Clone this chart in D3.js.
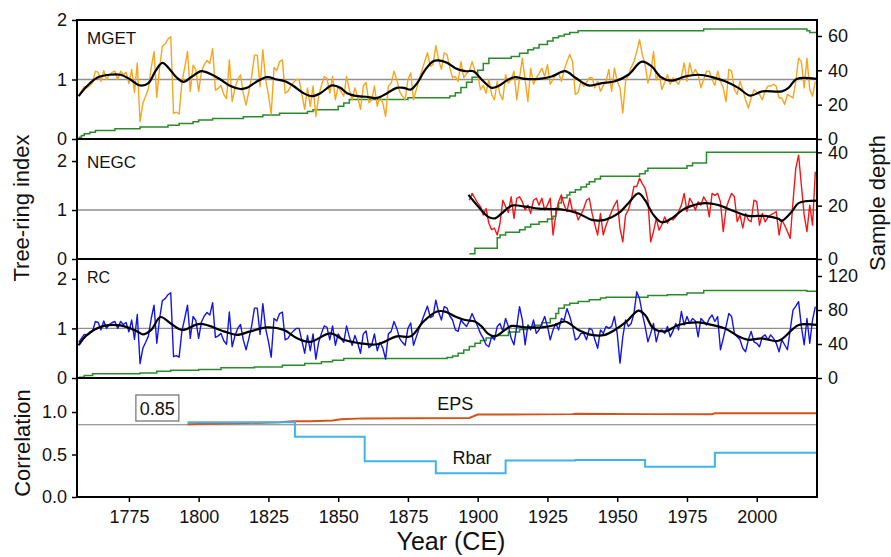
<!DOCTYPE html>
<html><head><meta charset="utf-8">
<script src="https://cdn.jsdelivr.net/npm/d3@7"></script>
<style>
body{margin:0;background:#fff}
svg{display:block;font-family:"Liberation Sans",Arial,Helvetica,sans-serif}
</style>
</head><body>
<svg id="chart" width="891" height="557"></svg>
<script>
// ---------------- DATA ----------------
const yearTicks = [1775, 1800, 1825, 1850, 1875, 1900, 1925, 1950, 1975, 2000];

const mgetStart = 1757;
const mgetValues = [
 .72,.80,.88,.86,.90,.95,1.14,1.12,.97,1.15,      // 1757
 1.0,1.08,1.12,1.14,1.0,1.14,1.08,1.12,.93,1.17,  // 1767
 .78,1.28,.29,.6,.72,.85,1.2,1.47,.7,1.2,         // 1777
 1.56,1.6,1.68,1.72,.43,.45,.42,.95,1.2,1.47,     // 1787
 .8,1.24,1.16,.8,1.13,1.25,1.32,1.27,1.52,.82,    // 1797
 .85,.9,.75,.68,1.33,.63,.85,1.0,1.08,.77,        // 1807
 .57,.8,1.05,1.41,1.41,.88,1.5,1.0,.74,.42,       // 1817
 1.2,1.15,1.3,1.33,.77,.8,.89,.95,1.0,1.0,        // 1827
 .75,.5,.86,.55,.89,.38,.72,.9,1.05,1.02,         // 1837
 .77,1.05,.66,.89,.8,.72,1.05,.83,.66,.86,        // 1847
 .7,.5,.89,.95,.61,.66,.89,.55,.72,.6,            // 1857
 .38,.89,.94,1.14,1.0,.8,.72,.66,1.0,1.11,        // 1867
 .66,.83,1.0,1.15,1.3,1.45,1.22,1.25,1.57,1.33,   // 1877
 1.17,                                            // 1887
 1.45,1.42,1.2,1.03,1.05,.97,1.3,1.03,1.1,1.14,   // 1888
 1.3,1.15,1.08,.83,.9,.77,1.0,.75,.66,.97,        // 1898
 .75,.66,1.08,.94,1.0,1.14,.66,1.03,1.36,.99,     // 1908
 .63,1.19,.92,1.03,1.1,1.19,1.05,1.25,.92,1.0,    // 1918
 1.08,1.11,.97,1.16,1.3,1.42,1.3,.75,.78,.97,     // 1928
 .89,.95,1.03,1.03,.86,.97,.8,.9,.97,1.17,        // 1938
 .8,1.19,.97,.86,.44,.97,1.08,1.2,1.3,1.47,       // 1948
 1.67,1.42,1.25,.94,1.1,1.47,.99,1.1,.83,.95,     // 1958
 1.08,.92,1.03,.97,.92,1.05,1.28,.97,1.28,1.08,   // 1968
 1.17,1.08,.86,1.0,1.14,1.14,1.0,.9,1.14,.97,     // 1978
 .86,.63,1.17,1.14,.83,.75,.97,.83,.66,.52,       // 1988
 .69,.83,.78,.75,.66,.8,.89,.89,.92,.89,          // 1998
 .69,.69,.58,.75,.72,.69,.97,1.36,1.3,.86,        // 2008
 1.36,.83,.72,.97                                 // 2018
];

const negcStart = 1897;
const negcValues = [
 1.2,1.34,1.24,1.14,1.07,.9,1.03,.73,.6,.63,      // 1897
 .49,.73,1.2,1.07,.95,1.27,.83,1.24,1.27,1.17,    // 1907
 1.0,1.1,.93,1.2,1.24,1.1,1.24,1.0,1.1,1.24,      // 1917
 .49,.9,1.17,1.31,1.1,.97,1.24,.97,1.0,.8,        // 1927
 .9,1.03,1.2,1.24,.93,.7,.49,.93,.49,.69,         // 1937
 .83,.97,1.1,1.2,.63,.35,.9,1.0,1.2,1.48,         // 1947
 1.48,1.65,1.54,1.44,1.2,.35,.56,.83,.59,.7,      // 1957
 .86,.73,.83,.8,.86,.97,1.1,1.34,.97,1.24,        // 1967
 1.14,1.0,1.17,1.1,1.27,1.17,.86,1.34,1.3,1.34,   // 1977
 1.17,.56,1.03,1.2,1.34,1.27,.76,.9,.63,.93,      // 1987
 .8,.76,1.2,1.17,.69,.93,.76,.85,.9,.93,          // 1997
 .97,.49,.8,.69,.56,.42,1.17,1.85,2.12,1.51,      // 2007
 .9,.56,1.1,.69,1.78                              // 2017
];

const rcStart = 1757;
const rcValues = [
 .72,.80,.88,.86,.90,.95,1.14,1.12,.97,1.15,      // 1757
 1.0,1.08,1.12,1.14,1.0,1.14,1.08,1.12,.93,1.17,  // 1767
 .78,1.28,.29,.6,.72,.85,1.2,1.47,.7,1.2,         // 1777
 1.56,1.6,1.68,1.72,.43,.45,.42,.95,1.2,1.47,     // 1787
 .8,1.24,1.16,.8,1.13,1.25,1.32,1.27,1.52,.82,    // 1797
 .85,.9,.75,.68,1.33,.63,.85,1.0,1.08,.77,        // 1807
 .57,.8,1.05,1.41,1.41,.88,1.5,1.0,.74,.42,       // 1817
 1.2,1.15,1.3,1.33,.77,.8,.89,.95,1.0,1.0,        // 1827
 .75,.5,.86,.55,.89,.38,.72,.9,1.05,1.02,         // 1837
 .77,1.05,.66,.89,.8,.72,1.05,.83,.66,.86,        // 1847
 .7,.5,.89,.95,.61,.66,.89,.55,.72,.6,            // 1857
 .38,.89,.94,1.14,1.0,.8,.72,.66,1.0,1.11,        // 1867
 .66,.83,1.0,1.15,1.3,1.45,1.22,1.25,1.57,1.33,   // 1877
 1.17,                                            // 1887
 1.44,1.41,1.25,1.17,.97,.94,1.17,1.1,1.04,1.15,  // 1888
 1.3,1.17,1.04,.9,.8,.67,.63,.84,.77,1.04,        // 1898
 1.1,.94,1.2,1.04,.8,.67,1.04,1.44,1.17,.67,      // 1908
 1.07,.97,1.17,.9,.97,1.1,1.24,1.04,.77,.97,      // 1918
 1.1,.97,1.2,1.17,1.4,1.24,1.04,.77,.8,.9,        // 1928
 .9,.77,1.0,.97,.77,.6,.97,.9,1.04,1.0,           // 1938
 1.04,1.24,.9,.3,.83,1.17,1.04,1.1,1.3,1.74,      // 1948
 1.6,1.3,1.04,.73,.9,1.1,.73,.95,.97,.9,          // 1958
 1.04,.83,.95,1.1,.97,1.34,1.07,1.24,1.1,1.2,     // 1968
 1.15,.83,1.2,1.14,1.07,1.2,1.27,1.14,1.24,.57,   // 1978
 .8,1.04,1.3,1.24,.9,.83,.77,.6,.53,.77,          // 1988
 .94,.73,.7,.63,.83,.87,.77,.87,.8,.7,            // 1998
 .53,.77,.67,.57,.97,1.37,1.45,1.54,1.04,.67,     // 2008
 1.2,.7,1.17,1.44                                 // 2018
];

// smoothed curves [year, index]
const mgetSmooth = [[1757,.72],[1760,.89],[1763.6,1.03],[1768,1.08],[1772,1.08],[1775.5,1.0],[1779,.9],[1782,.94],
 [1784.5,1.14],[1787,1.28],[1789.3,1.19],[1792.2,1.03],[1794.6,.96],[1797.6,1.05],[1801,1.14],[1804.8,1.08],
 [1807.8,1.0],[1811.4,.89],[1815,.84],[1817.3,.86],[1821,.97],[1824.5,1.04],[1828,1.0],[1831,.97],[1834,.89],
 [1837.6,.77],[1840.6,.72],[1843.6,.77],[1847.8,.9],[1850.8,.86],[1853.2,.77],[1857,.72],[1860,.71],[1864,.69],
 [1867.5,.77],[1871,.86],[1873.5,.86],[1876,.83],[1878.3,.94],[1881.3,1.17],[1884.2,1.31],[1886,1.32],[1889,1.28],
 [1892,1.19],[1895.5,1.14],[1898.5,1.14],[1901.4,1.0],[1905,.86],[1907.4,.89],[1911,1.0],[1913.4,1.04],[1917,1.01],
 [1922,1.01],[1926.5,1.05],[1931.3,1.14],[1935,1.03],[1939.7,.9],[1944.5,.94],[1949.2,.97],[1954,1.08],[1958.8,1.3],
 [1962.4,1.22],[1965.4,1.05],[1969.5,.98],[1974.3,1.05],[1979,1.08],[1984,1.04],[1988.7,.97],[1993.4,.86],
 [1997.6,.73],[2002,.8],[2009,.8],[2011.4,.86],[2014.3,1.01],[2021.5,1.01]];

const negcSmooth = [[1896.7,1.31],[1900.2,1.07],[1903.8,.86],[1906.2,.83],[1908.6,.93],[1912.2,1.09],[1917,1.07],
 [1921.8,1.03],[1926.5,1.02],[1931.3,1.0],[1936.1,.93],[1940.9,.8],[1945.6,.8],[1950.4,.93],[1954,1.14],
 [1957.6,1.34],[1960,1.2],[1963,.9],[1966,.75],[1969.5,.83],[1974.3,1.03],[1981.5,1.14],[1986.3,1.1],
 [1992.2,.97],[1997,.88],[2003,.88],[2007.8,.82],[2009,.78],[2012.6,.97],[2015,1.14],[2021.5,1.19]];

const rcSmooth = [[1757,.66],[1760,.87],[1766,1.05],[1772,1.06],[1778,.94],[1780,.88],[1783,.97],[1786.3,1.23],
 [1790,1.1],[1794,.97],[1800.6,1.09],[1809,.94],[1813.7,.87],[1818.5,.94],[1824.5,1.02],[1830.5,.97],
 [1835.3,.8],[1840,.73],[1847.2,.9],[1852,.77],[1858,.7],[1864,.68],[1871,.84],[1876,.84],[1880.6,1.14],
 [1885.4,1.34],[1888.3,1.34],[1891.9,1.24],[1895.5,1.17],[1899,1.14],[1901.4,1.04],[1903.8,.89],[1906.2,.84],
 [1909.8,.97],[1912.2,1.05],[1917,1.02],[1923,1.02],[1927.7,1.07],[1931.3,1.14],[1936.1,.97],[1940.9,.87],
 [1945.6,.87],[1949.2,.97],[1953.4,1.14],[1957.6,1.36],[1960,1.27],[1963,1.0],[1967.2,.94],[1972,1.07],
 [1979.1,1.12],[1983.9,1.07],[1988.7,1.0],[1993.4,.84],[1997,.77],[2001.8,.8],[2007.8,.75],[2012.6,.97],
 [2015,1.07],[2021.5,1.07]];

// sample depth [year, number of samples] (step changes)
const mgetDepth = [[1757,1],[1758,2],[1759,3],[1761,4],[1763,5],[1770,6],[1779,7],[1789,8],[1793,9],[1798,10],
 [1800,11],[1805,12],[1816,13],[1823,14],[1829,15],[1839,16],[1841,17],[1850,19],[1852,21],[1854,23],[1875,24],
 [1890,25],[1892,27],[1894,30],[1896,33],[1898,36],[1900,40],[1902,44],[1904,47],[1912,48],[1915,50],[1918,52],
 [1920,53],[1922,55],[1925,57],[1927,59],[1929,60],[1931,61],[1933,62],[1936,63],[1981,64],[2018,63],[2019,62],[2021.5,62]];

const negcDepth = [[1897,2],[1899,4],[1907,8],[1908,9],[1910,10],[1915,11],[1917,12],[1919,13],[1922,14],[1925,15],
 [1927,16],[1928,19],[1929,21],[1930,23],[1932,24],[1933,25],[1935,26],[1937,27],[1939,28],[1940,29],[1942,30],
 [1944,31],[1958,32],[1960,33],[1961,34],[1975,35],[1977,36],[1982,40],[2021.5,40]];

const rcDepth = [[1757,1],[1759,3],[1762,5],[1779,6],[1785,8],[1790,9],[1800,10],[1808,12],[1820,13],[1830,15],
 [1838,17],[1844,19],[1848,21],[1852,23],[1889,24],[1891,26],[1893,29],[1895,33],[1897,37],[1899,41],[1901,44],
 [1903,47],[1906,50],[1911,54],[1915,57],[1918,60],[1920,62],[1923,65],[1926,70],[1928,76],[1929,82],[1931,86],
 [1933,88],[1936,90],[1940,92],[1944,94],[1946,95],[1961,97],[1968,98],[1975,100],[1981,103],[2018,102],[2021.5,102]];

// running statistics
const epsSeries = [[1796,.855],[1813,.867],[1829,.878],[1834,.89],[1840,.89],[1848,.9],[1851,.915],[1859,.925],
 [1897,.93],[1900,.97],[1934,.975],[1935,.98],[1960,.975],[1984,.975],[1985,.985],[2021.5,.985]];
const rbarSeries = [[1796,.88],[1834.5,.71],[1859.5,.42],[1885,.28],[1910,.43],[1935,.435],[1960,.357],[1985,.52],[2021.5,.52]];
const epsThreshold = 0.85;

// ---------------- CHART ----------------
const svg = d3.select("#chart");
const L = 77, R = 817;
const x = d3.scaleLinear().domain([1756.4, 2021.6]).range([L, R]);
const FONT = 18;

const panels = [
  {top:20,  bottom:139, yMax:2,    yTicks:[0,1,2], dMax:69.3, dTicks:[0,20,40,60],     name:"MGET", nameY:44,  nameSize:17,
   start:mgetStart, values:mgetValues, color:"#F7A51C", smooth:mgetSmooth, depth:mgetDepth},
  {top:139, bottom:259, yMax:2.45, yTicks:[0,1,2], dMax:45,   dTicks:[0,20,40],        name:"NEGC", nameY:168, nameSize:17,
   start:negcStart, values:negcValues, color:"#F01818", smooth:negcSmooth, depth:negcDepth},
  {top:259, bottom:378, yMax:2.4,  yTicks:[0,1,2], dMax:140,  dTicks:[0,40,80,120],    name:"RC",   nameY:283, nameSize:16,
   start:rcStart, values:rcValues, color:"#1515E0", smooth:rcSmooth, depth:rcDepth}
];

function styleAxis(g){
  g.select(".domain").remove();
  g.selectAll(".tick line").attr("stroke","#000").attr("stroke-width",1.5);
  g.selectAll(".tick text").attr("fill","#111").style("font-size",FONT+"px");
}

panels.forEach((p,i)=>{
  const y = d3.scaleLinear().domain([0,p.yMax]).range([p.bottom,p.top]);
  const yd = d3.scaleLinear().domain([0,p.dMax]).range([p.bottom,p.top]);
  const clipId = "clip"+i;
  svg.append("clipPath").attr("id",clipId).append("rect")
    .attr("x",L).attr("y",p.top).attr("width",R-L).attr("height",p.bottom-p.top);
  const g = svg.append("g").attr("clip-path",`url(#${clipId})`);
  g.append("line").attr("x1",L).attr("x2",R).attr("y1",y(1)).attr("y2",y(1))
    .attr("stroke","#8f8f8f").attr("stroke-width",1.3);
  g.append("path").datum(p.depth)
    .attr("d", d3.line().x(d=>x(d[0])).y(d=>yd(d[1])).curve(d3.curveStepAfter))
    .attr("fill","none").attr("stroke","#2A8A2A").attr("stroke-width",1.5);
  const annual = p.values.map((v,k)=>[p.start+k, v]);
  g.append("path").datum(annual)
    .attr("d", d3.line().x(d=>x(d[0])).y(d=>y(d[1])))
    .attr("fill","none").attr("stroke",p.color).attr("stroke-width",1.4).attr("stroke-linejoin","round");
  g.append("path").datum(p.smooth)
    .attr("d", d3.line().x(d=>x(d[0])).y(d=>y(d[1])).curve(d3.curveCatmullRom.alpha(0.5)))
    .attr("fill","none").attr("stroke","#000").attr("stroke-width",2.2);
  svg.append("g").attr("transform",`translate(${L},0)`)
    .call(d3.axisLeft(y).tickValues(p.yTicks).tickSize(5).tickPadding(5).tickFormat(d3.format("d")))
    .call(styleAxis);
  svg.append("g").attr("transform",`translate(${R},0)`)
    .call(d3.axisRight(yd).tickValues(p.dTicks).tickSize(5).tickPadding(6).tickFormat(d3.format("d")))
    .call(styleAxis);
  svg.append("text").attr("x",L+10).attr("y",p.nameY).text(p.name)
    .style("font-size",p.nameSize+"px").attr("fill","#111");
});

// correlation panel
const cTop = 378, cBottom = 497;
const yc = d3.scaleLinear().domain([0,1.4]).range([cBottom,cTop]);
svg.append("clipPath").attr("id","clipc").append("rect")
  .attr("x",L).attr("y",cTop).attr("width",R-L).attr("height",cBottom-cTop);
const gc = svg.append("g").attr("clip-path","url(#clipc)");
gc.append("line").attr("x1",L).attr("x2",R).attr("y1",yc(epsThreshold)).attr("y2",yc(epsThreshold))
  .attr("stroke","#7a7a7a").attr("stroke-width",1.1);
gc.append("path").datum(epsSeries)
  .attr("d", d3.line().x(d=>x(d[0])).y(d=>yc(d[1])))
  .attr("fill","none").attr("stroke","#D4531A").attr("stroke-width",2);
gc.append("path").datum(rbarSeries)
  .attr("d", d3.line().x(d=>x(d[0])).y(d=>yc(d[1])).curve(d3.curveStepAfter))
  .attr("fill","none").attr("stroke","#3FB3EE").attr("stroke-width",2);

svg.append("g").attr("transform",`translate(${L},0)`)
  .call(d3.axisLeft(yc).tickValues([0,0.5,1.0]).tickSize(5).tickPadding(5).tickFormat(d3.format(".1f")))
  .call(styleAxis);
svg.append("g").attr("transform",`translate(0,${cBottom})`)
  .call(d3.axisBottom(x).tickValues(yearTicks).tickSize(5).tickPadding(8).tickFormat(d3.format("d")))
  .call(styleAxis);

svg.append("text").attr("x",x(1885.5)).attr("y",410).text("EPS").style("font-size","18px").attr("fill","#111");
svg.append("text").attr("x",x(1891)).attr("y",464).text("Rbar").style("font-size","18px").attr("fill","#111");
const bx = x(1777.5), by = 395;
svg.append("rect").attr("x",bx).attr("y",by).attr("width",43).attr("height",26)
  .attr("fill","#fff").attr("stroke","#6f6f6f").attr("stroke-width",1.2);
svg.append("text").attr("x",bx+21.5).attr("y",by+20).attr("text-anchor","middle")
  .text(d3.format(".2f")(epsThreshold)).style("font-size","18px").attr("fill","#111");

// frame
const frameY = [20,139,259,378,497];
frameY.forEach(yv=>{
  svg.append("line").attr("x1",L-1).attr("x2",R+1).attr("y1",yv).attr("y2",yv)
    .attr("stroke","#000").attr("stroke-width",2);
});
[L,R].forEach(xv=>{
  svg.append("line").attr("x1",xv).attr("x2",xv).attr("y1",19).attr("y2",498)
    .attr("stroke","#000").attr("stroke-width",2);
});

// axis titles
svg.append("text").attr("transform","translate(29,208) rotate(-90)").attr("text-anchor","middle")
  .text("Tree-ring index").style("font-size","22px").attr("fill","#111");
svg.append("text").attr("transform","translate(30,443) rotate(-90)").attr("text-anchor","middle")
  .text("Correlation").style("font-size","22px").attr("fill","#111");
svg.append("text").attr("transform","translate(885,203) rotate(-90)").attr("text-anchor","middle")
  .text("Sample depth").style("font-size","22px").attr("fill","#111");
svg.append("text").attr("x",451).attr("y",550).attr("text-anchor","middle")
  .text("Year (CE)").style("font-size","25px").attr("fill","#111");
</script>
</body></html>
